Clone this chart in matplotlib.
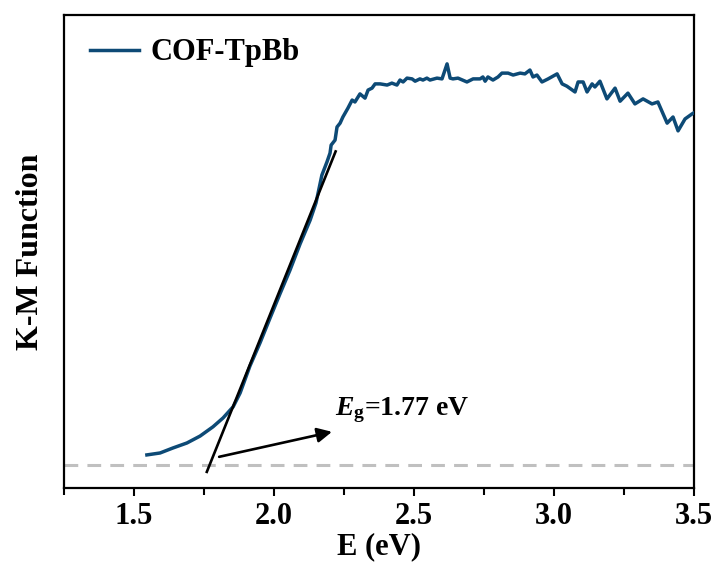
import matplotlib
matplotlib.use('Agg')
import matplotlib.pyplot as plt
from matplotlib.ticker import MultipleLocator
import numpy as np

plt.rcParams['font.family'] = ['Liberation Serif', 'DejaVu Serif']
plt.rcParams['font.weight'] = 'bold'
plt.rcParams['mathtext.fontset'] = 'custom'
plt.rcParams['mathtext.it'] = 'Liberation Serif:italic:bold'
plt.rcParams['mathtext.rm'] = 'Liberation Serif:bold'

# K-M function spectrum of COF-TpBb (arbitrary units)
energy = [1.546, 1.593, 1.639, 1.689, 1.736, 1.782, 1.818, 1.854, 1.879, 1.896,
          1.914, 1.950, 1.986, 2.021, 2.057, 2.093, 2.129, 2.150, 2.171, 2.189,
          2.200, 2.204, 2.218, 2.225, 2.236, 2.246, 2.264, 2.279, 2.289, 2.307,
          2.325, 2.336, 2.350, 2.361, 2.379, 2.404, 2.421, 2.439, 2.450, 2.461,
          2.475, 2.493, 2.504, 2.521, 2.532, 2.546, 2.557, 2.582, 2.600, 2.618,
          2.629, 2.639, 2.657, 2.689, 2.711, 2.736, 2.746, 2.754, 2.764, 2.782,
          2.800, 2.814, 2.836, 2.854, 2.879, 2.896, 2.914, 2.925, 2.939, 2.957,
          2.979, 3.011, 3.029, 3.046, 3.075, 3.086, 3.104, 3.118, 3.136, 3.146,
          3.164, 3.189, 3.218, 3.236, 3.264, 3.289, 3.318, 3.350, 3.371, 3.404,
          3.425, 3.443, 3.468, 3.493, 3.500]
km = [0.026, 0.031, 0.044, 0.057, 0.075, 0.099, 0.122, 0.151, 0.187, 0.221,
      0.257, 0.317, 0.382, 0.444, 0.506, 0.574, 0.636, 0.681, 0.753, 0.787,
      0.810, 0.831, 0.844, 0.878, 0.888, 0.904, 0.927, 0.948, 0.943, 0.964,
      0.953, 0.974, 0.979, 0.990, 0.990, 0.987, 0.992, 0.987, 1.000, 0.995,
      1.005, 1.003, 0.997, 1.003, 1.000, 1.005, 1.000, 1.005, 1.003, 1.042,
      1.005, 1.003, 1.005, 0.995, 1.003, 1.003, 1.008, 0.997, 1.008, 1.000,
      1.008, 1.018, 1.018, 1.013, 1.018, 1.016, 1.026, 1.008, 1.013, 0.995,
      1.003, 1.016, 0.990, 0.984, 0.969, 0.995, 0.995, 0.969, 0.990, 0.982,
      0.997, 0.951, 0.979, 0.945, 0.966, 0.938, 0.951, 0.938, 0.943, 0.888,
      0.904, 0.868, 0.899, 0.912, 0.915]

# linear fit used for the band gap
eg = 1.77
fit_slope = 1.81
fit_range = [1.76, 2.22]

line_color = '#0d4a76'

fig = plt.figure(figsize=(7.16, 5.66), dpi=100)
ax = fig.add_axes([0.0894, 0.1378, 0.8799, 0.8357])

ax.axhline(0, color='#c0c0c0', lw=2.2, ls=(0, (4.5, 3)), zorder=1)
ax.plot(energy, km, color=line_color, lw=2.5, label='COF-TpBb', zorder=3)

fx = np.array(fit_range)
ax.plot(fx, fit_slope * (fx - eg), color='k', lw=1.9, zorder=4)

ax.annotate('', xy=(2.207, 0.086), xytext=(1.804, 0.021),
            arrowprops=dict(arrowstyle='-|>', color='k', lw=1.9,
                            mutation_scale=22, shrinkA=0, shrinkB=0))
ax.text(2.218, 0.143, r'$E_{\mathrm{g}}$=1.77 eV', fontsize=20,
        fontweight='bold', ha='left', va='center')

ax.set_xlim(1.25, 3.5)
ax.set_ylim(-0.06, 1.169)
ax.xaxis.set_major_locator(MultipleLocator(0.5))
ax.xaxis.set_minor_locator(MultipleLocator(0.25))
ax.set_yticks([])
ax.tick_params(axis='x', which='major', direction='out', length=6, width=1.5,
               labelsize=22, pad=4)
ax.tick_params(axis='x', which='minor', direction='out', length=5, width=1.5)
for s in ax.spines.values():
    s.set_linewidth(1.6)

ax.set_xlabel('E (eV)', fontsize=22, fontweight='bold', labelpad=1)
ax.set_ylabel('K-M Function', fontsize=23, fontweight='bold', labelpad=14)

ax.legend(loc='center left', bbox_to_anchor=(0.041, 0.92), frameon=False,
          fontsize=22, handlelength=1.6, handletextpad=0.4, borderpad=0,
          borderaxespad=0)

fig.savefig('out.png', dpi=100)
